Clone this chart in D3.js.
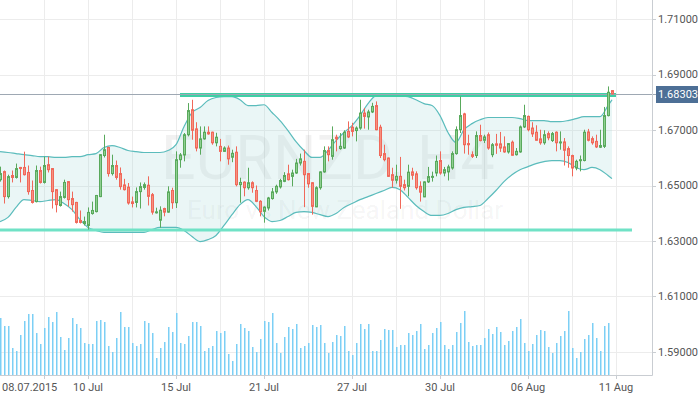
<!DOCTYPE html>
<html>
<head>
<meta charset="utf-8">
<script src="https://cdn.jsdelivr.net/npm/d3@7"></script>
<style>
  body { margin: 0; background: #fff; }
  svg { display: block; }
  text { font-family: Roboto, "Liberation Sans", sans-serif; }
</style>
</head>
<body>
<svg width="700" height="394"></svg>
<script>
// EURNZD H4 candles
var opens = [
  1.6521,1.6550,1.6460,1.6536,1.6529,1.6565,1.6565,1.6547,1.6482,1.6442,
  1.6554,1.6511,1.6575,1.6561,1.6485,1.6428,1.6457,1.6514,1.6453,1.6439,
  1.6374,1.6363,1.6356,1.6399,1.6406,1.6460,1.6608,1.6637,1.6543,1.6572,
  1.6543,1.6502,1.6494,1.6441,1.6439,1.6478,1.6493,1.6501,1.6467,1.6402,
  1.6375,1.6417,1.6404,1.6482,1.6438,1.6593,1.6610,1.6683,1.6773,1.6704,
  1.6635,1.6668,1.6692,1.6692,1.6654,1.6641,1.6623,1.6635,1.6602,1.6620,
  1.6503,1.6512,1.6492,1.6510,1.6482,1.6443,1.6407,1.6419,1.6453,1.6477,
  1.6495,1.6515,1.6542,1.6533,1.6545,1.6581,1.6587,1.6543,1.6510,1.6423,
  1.6492,1.6549,1.6626,1.6605,1.6674,1.6633,1.6635,1.6695,1.6710,1.6698,
  1.6707,1.6761,1.6747,1.6765,1.6788,1.6710,1.6615,1.6599,1.6539,1.6519,
  1.6533,1.6503,1.6497,1.6549,1.6542,1.6497,1.6459,1.6513,1.6531,1.6545,
  1.6590,1.6545,1.6549,1.6563,1.6615,1.6701,1.6758,1.6651,1.6611,1.6608,
  1.6680,1.6663,1.6683,1.6611,1.6650,1.6650,1.6639,1.6621,1.6656,1.6611,
  1.6621,1.6711,1.6749,1.6707,1.6692,1.6668,1.6654,1.6687,1.6662,1.6692,
  1.6654,1.6657,1.6633,1.6608,1.6563,1.6590,1.6590,1.6693,1.6669,1.6659,
  1.6638,1.6641,1.6752,1.6842
];
var highs = [
  1.6568,1.6554,1.6539,1.6554,1.6579,1.6567,1.6622,1.6572,1.6518,1.6572,
  1.6568,1.6604,1.6604,1.6563,1.6487,1.6478,1.6521,1.6516,1.6478,1.6441,
  1.6410,1.6388,1.6421,1.6442,1.6466,1.6613,1.6683,1.6640,1.6611,1.6590,
  1.6565,1.6524,1.6509,1.6460,1.6493,1.6511,1.6511,1.6533,1.6473,1.6420,
  1.6425,1.6420,1.6497,1.6492,1.6623,1.6617,1.6689,1.6797,1.6809,1.6728,
  1.6713,1.6713,1.6713,1.6694,1.6690,1.6668,1.6641,1.6644,1.6629,1.6641,
  1.6528,1.6515,1.6564,1.6515,1.6500,1.6447,1.6425,1.6459,1.6491,1.6503,
  1.6524,1.6548,1.6575,1.6557,1.6596,1.6615,1.6629,1.6545,1.6512,1.6497,
  1.6551,1.6641,1.6641,1.6713,1.6683,1.6689,1.6699,1.6731,1.6726,1.6713,
  1.6809,1.6779,1.6773,1.6798,1.6803,1.6719,1.6647,1.6601,1.6564,1.6575,
  1.6603,1.6521,1.6575,1.6564,1.6551,1.6515,1.6515,1.6567,1.6550,1.6608,
  1.6623,1.6567,1.6575,1.6623,1.6713,1.6821,1.6762,1.6683,1.6623,1.6695,
  1.6719,1.6683,1.6691,1.6653,1.6686,1.6693,1.6677,1.6653,1.6662,1.6635,
  1.6716,1.6791,1.6752,1.6728,1.6717,1.6701,1.6699,1.6695,1.6693,1.6695,
  1.6695,1.6671,1.6641,1.6611,1.6593,1.6608,1.6701,1.6704,1.6677,1.6683,
  1.6701,1.6783,1.6857,1.6842
];
var lows = [
  1.6514,1.6435,1.6453,1.6511,1.6525,1.6511,1.6536,1.6467,1.6435,1.6439,
  1.6507,1.6507,1.6547,1.6417,1.6403,1.6424,1.6453,1.6424,1.6406,1.6363,
  1.6363,1.6356,1.6341,1.6395,1.6403,1.6458,1.6601,1.6532,1.6536,1.6521,
  1.6485,1.6482,1.6431,1.6421,1.6421,1.6417,1.6485,1.6428,1.6395,1.6399,
  1.6348,1.6389,1.6402,1.6416,1.6419,1.6564,1.6587,1.6677,1.6665,1.6623,
  1.6611,1.6665,1.6683,1.6647,1.6641,1.6587,1.6621,1.6575,1.6584,1.6497,
  1.6438,1.6461,1.6485,1.6474,1.6440,1.6389,1.6366,1.6410,1.6449,1.6470,
  1.6489,1.6512,1.6518,1.6497,1.6542,1.6572,1.6422,1.6492,1.6395,1.6422,
  1.6485,1.6546,1.6587,1.6593,1.6623,1.6629,1.6632,1.6671,1.6677,1.6659,
  1.6701,1.6705,1.6701,1.6761,1.6699,1.6599,1.6587,1.6531,1.6492,1.6507,
  1.6416,1.6482,1.6461,1.6521,1.6485,1.6442,1.6458,1.6509,1.6514,1.6533,
  1.6539,1.6533,1.6518,1.6557,1.6611,1.6689,1.6615,1.6611,1.6599,1.6599,
  1.6659,1.6653,1.6629,1.6602,1.6614,1.6621,1.6618,1.6615,1.6608,1.6608,
  1.6618,1.6707,1.6695,1.6675,1.6662,1.6647,1.6647,1.6663,1.6657,1.6623,
  1.6629,1.6572,1.6564,1.6533,1.6555,1.6551,1.6587,1.6659,1.6647,1.6635,
  1.6635,1.6635,1.6749,1.6829
];
var closes = [
  1.6543,1.6460,1.6532,1.6529,1.6561,1.6561,1.6539,1.6478,1.6439,1.6554,
  1.6511,1.6572,1.6557,1.6478,1.6431,1.6460,1.6511,1.6449,1.6431,1.6367,
  1.6367,1.6370,1.6403,1.6410,1.6464,1.6611,1.6629,1.6543,1.6572,1.6529,
  1.6496,1.6485,1.6437,1.6435,1.6478,1.6496,1.6503,1.6461,1.6404,1.6405,
  1.6411,1.6404,1.6477,1.6438,1.6593,1.6610,1.6683,1.6770,1.6699,1.6635,
  1.6668,1.6692,1.6686,1.6654,1.6674,1.6623,1.6635,1.6596,1.6616,1.6503,
  1.6511,1.6492,1.6510,1.6492,1.6443,1.6405,1.6422,1.6455,1.6477,1.6497,
  1.6518,1.6536,1.6521,1.6545,1.6581,1.6596,1.6539,1.6506,1.6425,1.6492,
  1.6549,1.6626,1.6611,1.6665,1.6668,1.6641,1.6692,1.6675,1.6695,1.6707,
  1.6761,1.6749,1.6765,1.6785,1.6701,1.6608,1.6593,1.6533,1.6519,1.6533,
  1.6497,1.6492,1.6548,1.6537,1.6492,1.6476,1.6513,1.6532,1.6533,1.6587,
  1.6545,1.6557,1.6567,1.6615,1.6701,1.6752,1.6647,1.6647,1.6605,1.6680,
  1.6662,1.6675,1.6635,1.6647,1.6645,1.6635,1.6621,1.6651,1.6609,1.6623,
  1.6711,1.6752,1.6701,1.6686,1.6663,1.6654,1.6683,1.6672,1.6687,1.6654,
  1.6657,1.6627,1.6608,1.6563,1.6587,1.6593,1.6692,1.6663,1.6654,1.6639,
  1.6644,1.6752,1.6836,1.68303
];
// tick volumes
var volumes = [
  1710,1470,1470,810,720,1200,1620,1830,1830,1260,
  930,1410,1740,1590,1890,1140,750,1110,1710,1530,
  1410,960,930,930,1620,1650,1590,870,690,1110,
  1890,1440,1440,960,870,930,1620,1560,1260,510,
  810,990,1440,1290,1860,960,930,1170,1590,1590,
  1470,720,810,870,1320,1260,1320,630,420,930,
  1530,1410,1320,840,690,1080,1620,1590,1860,960,
  660,1140,1440,1380,1530,810,870,960,1500,1440,
  1500,960,660,990,1200,1170,1470,720,600,960,
  1530,1380,1530,720,720,1050,1380,1350,1350,840,
  900,900,1260,1200,1320,1530,780,900,1260,1410,
  1590,900,780,900,1290,1560,1920,990,870,900,
  900,1110,1380,1230,1440,1290,900,1020,1320,1440,
  1680,960,720,930,1200,1350,1320,840,660,960,
  1170,1320,1920,810,510,690,1080,1200,1560,1110,
  720,1470,1560,0
];
// Bollinger band edges, every 2nd candle (last point = last candle)
var bandUpper = [
  1.6622,1.6619,1.6615,1.6611,1.6608,1.6604,1.6604,1.6601,1.6601,1.6604,
  1.6604,1.6611,1.6615,1.6637,1.6644,1.6637,1.6626,1.6622,1.6619,1.6619,
  1.6619,1.6626,1.6647,1.6712,1.6763,1.6781,1.6806,1.6817,1.6820,1.6820,
  1.6809,1.6788,1.6788,1.6791,1.6763,1.6734,1.6698,1.6658,1.6626,1.6601,
  1.6601,1.6626,1.6662,1.6691,1.6716,1.6752,1.6795,1.6824,1.6827,1.6827,
  1.6824,1.6820,1.6809,1.6795,1.6788,1.6752,1.6691,1.6655,1.6701,1.6723,
  1.6737,1.6745,1.6745,1.6745,1.6745,1.6741,1.6734,1.6734,1.6734,1.6730,
  1.6730,1.6734,1.6741,1.6748,1.6748,1.6748,1.6788,1.6809
];
var bandLower = [
  1.6370,1.6385,1.6421,1.6449,1.6446,1.6442,1.6446,1.6449,1.6435,1.6413,
  1.6377,1.6349,1.6338,1.6331,1.6331,1.6331,1.6331,1.6331,1.6331,1.6341,
  1.6349,1.6349,1.6349,1.6338,1.6316,1.6298,1.6305,1.6320,1.6356,1.6395,
  1.6431,1.6449,1.6424,1.6388,1.6370,1.6374,1.6388,1.6403,1.6406,1.6403,
  1.6395,1.6388,1.6399,1.6421,1.6435,1.6449,1.6460,1.6471,1.6482,1.6493,
  1.6485,1.6457,1.6428,1.6406,1.6392,1.6392,1.6399,1.6413,1.6421,1.6424,
  1.6428,1.6453,1.6482,1.6514,1.6539,1.6557,1.6568,1.6579,1.6586,1.6590,
  1.6590,1.6583,1.6565,1.6557,1.6565,1.6557,1.6536,1.6525
];
// drawn levels: price, first and last candle index
var levelPrices = [1.6826, 1.6340];
var levelFrom = [45, 0];
var levelTo = [154, 158];

var lastPrice = 1.68303;
var priceTicks = [1.59, 1.61, 1.63, 1.65, 1.67, 1.69, 1.71];
var dateTickIdx = [11, 22, 44, 66, 88, 110, 132, 154];
var dateTickLabels = ["08.07.2015", "10 Jul", "15 Jul", "21 Jul", "27 Jul", "30 Jul", "06 Aug", "11 Aug"];

var svg = d3.select("svg"),
    width = +svg.attr("width"),
    height = +svg.attr("height");

var plotRight = 652, plotBottom = 375;

var x = d3.scaleLinear().domain([0, 163]).range([0, plotRight]);
var y = d3.scaleLinear().domain([1.59, 1.71]).range([352, 19]);
var yVol = d3.scaleLinear().domain([0, 3000]).range([plotBottom, plotBottom - 100]);

function bandIdx(k) { return Math.min(k * 2, opens.length - 1); }

// grid
var grid = svg.append("g").attr("stroke", "#ececec").attr("stroke-width", 1);
grid.selectAll("line.h")
    .data(priceTicks)
    .enter().append("line")
    .attr("x1", 0).attr("x2", plotRight)
    .attr("y1", function (d) { return Math.round(y(d)) + 0.5; })
    .attr("y2", function (d) { return Math.round(y(d)) + 0.5; });
grid.selectAll("line.v")
    .data(d3.range(11, 164, 11))
    .enter().append("line")
    .attr("y1", 0).attr("y2", plotBottom)
    .attr("x1", function (d) { return Math.round(x(d)) + 0.5; })
    .attr("x2", function (d) { return Math.round(x(d)) + 0.5; });

// watermark
svg.append("text")
    .attr("x", 328).attr("y", 179)
    .attr("text-anchor", "middle")
    .attr("font-size", 61)
    .attr("fill", "rgba(0,0,0,0.055)")
    .text("EURNZD, H4");
svg.append("text")
    .attr("x", 345).attr("y", 219)
    .attr("text-anchor", "middle")
    .attr("font-size", 26)
    .attr("fill", "rgba(0,0,0,0.055)")
    .text("Euro vs New Zealand Dollar");

// volume
svg.append("g")
    .selectAll("rect")
    .data(volumes)
    .enter().append("rect")
    .attr("x", function (d, i) { return x(i); })
    .attr("width", 1.5)
    .attr("y", function (d) { return yVol(d); })
    .attr("height", function (d) { return plotBottom - yVol(d); })
    .attr("fill", "#7ccff5");

// bollinger band
var bandArea = d3.area()
    .x(function (d, k) { return x(bandIdx(k)); })
    .y0(function (d, k) { return y(bandLower[k]); })
    .y1(function (d) { return y(d); })
    .curve(d3.curveMonotoneX);
svg.append("path")
    .attr("d", bandArea(bandUpper))
    .attr("fill", "rgba(160,215,215,0.22)");
[bandUpper, bandLower].forEach(function (arr) {
    svg.append("path")
        .attr("d", d3.line()
            .x(function (d, k) { return x(bandIdx(k)); })
            .y(function (d) { return y(d); })
            .curve(d3.curveMonotoneX)(arr))
        .attr("fill", "none")
        .attr("stroke", "#5bbcbc")
        .attr("stroke-width", 1.2);
});

// support / resistance
var levelColors = ["#3fcfa6", "#70e2c6"];
var levelWidths = [4, 3];
svg.append("g")
    .selectAll("line")
    .data(levelPrices)
    .enter().append("line")
    .attr("x1", function (d, i) { return x(levelFrom[i]); })
    .attr("x2", function (d, i) { return x(levelTo[i]); })
    .attr("y1", function (d) { return y(d); })
    .attr("y2", function (d) { return y(d); })
    .attr("stroke", function (d, i) { return levelColors[i]; })
    .attr("stroke-width", function (d, i) { return levelWidths[i]; });

// current price line
svg.append("line")
    .attr("x1", 0).attr("x2", 656)
    .attr("y1", Math.round(y(lastPrice)) + 0.5)
    .attr("y2", Math.round(y(lastPrice)) + 0.5)
    .attr("stroke", "#9ea8b3")
    .attr("stroke-width", 1);

// candles
var candles = svg.append("g")
    .selectAll("g")
    .data(opens)
    .enter().append("g");
function isUp(i) { return closes[i] >= opens[i]; }
candles.append("line")
    .attr("x1", function (d, i) { return x(i) + 0.5; })
    .attr("x2", function (d, i) { return x(i) + 0.5; })
    .attr("y1", function (d, i) { return y(highs[i]); })
    .attr("y2", function (d, i) { return y(lows[i]); })
    .attr("stroke", function (d, i) { return isUp(i) ? "#59a95c" : "#f0685a"; })
    .attr("stroke-width", 1);
candles.append("rect")
    .attr("x", function (d, i) { return x(i) - 0.5; })
    .attr("width", 2)
    .attr("y", function (d, i) { return y(Math.max(opens[i], closes[i])); })
    .attr("height", function (d, i) {
        return Math.max(1, Math.abs(y(opens[i]) - y(closes[i])));
    })
    .attr("fill", function (d, i) { return isUp(i) ? "#8fcf91" : "#f7917f"; })
    .attr("stroke", function (d, i) { return isUp(i) ? "#59a95c" : "#f0685a"; })
    .attr("stroke-width", 1);

// axes frame
svg.append("line")
    .attr("x1", plotRight + 0.5).attr("x2", plotRight + 0.5)
    .attr("y1", 0).attr("y2", plotBottom + 0.5)
    .attr("stroke", "#c9cdd2");
svg.append("line")
    .attr("x1", 0).attr("x2", plotRight + 0.5)
    .attr("y1", plotBottom + 0.5).attr("y2", plotBottom + 0.5)
    .attr("stroke", "#c9cdd2");

// price axis
var yAx = svg.append("g");
yAx.selectAll("line")
    .data(priceTicks)
    .enter().append("line")
    .attr("x1", plotRight).attr("x2", plotRight + 4)
    .attr("y1", function (d) { return Math.round(y(d)) + 0.5; })
    .attr("y2", function (d) { return Math.round(y(d)) + 0.5; })
    .attr("stroke", "#c9cdd2");
yAx.selectAll("text")
    .data(priceTicks)
    .enter().append("text")
    .attr("x", 658)
    .attr("y", function (d) { return y(d); })
    .attr("dy", "0.35em")
    .attr("font-size", 11)
    .attr("fill", "#555")
    .text(function (d) { return d.toFixed(5); });

// last price label
svg.append("rect")
    .attr("x", 656).attr("y", Math.round(y(lastPrice)) - 8)
    .attr("width", 42).attr("height", 17)
    .attr("fill", "#4d6f96");
svg.append("text")
    .attr("x", 658).attr("y", y(lastPrice))
    .attr("dy", "0.38em")
    .attr("font-size", 11)
    .attr("fill", "#fff")
    .text(lastPrice.toFixed(5));

// date axis
var xAx = svg.append("g");
xAx.selectAll("line")
    .data(dateTickIdx)
    .enter().append("line")
    .attr("x1", function (d) { return Math.round(x(d)) + 0.5; })
    .attr("x2", function (d) { return Math.round(x(d)) + 0.5; })
    .attr("y1", plotBottom).attr("y2", plotBottom + 4)
    .attr("stroke", "#c9cdd2");
xAx.selectAll("text")
    .data(dateTickIdx)
    .enter().append("text")
    .attr("x", function (d, i) { return i === 0 ? 2 : x(d); })
    .attr("y", 391)
    .attr("text-anchor", function (d, i) { return i === 0 ? "start" : "middle"; })
    .attr("font-size", 11)
    .attr("fill", "#555")
    .text(function (d, i) { return dateTickLabels[i]; });
</script>
</body>
</html>
